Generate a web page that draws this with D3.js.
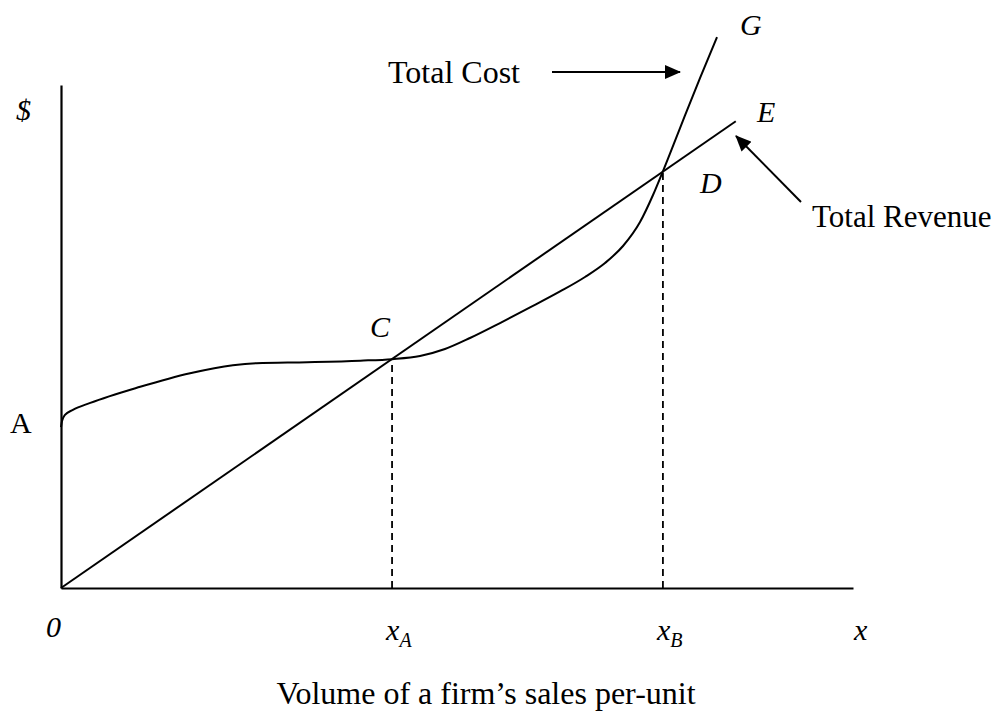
<!DOCTYPE html>
<html>
<head>
<meta charset="utf-8">
<script src="https://cdn.jsdelivr.net/npm/d3@7"></script>
<style>
  body { margin: 0; background: #fff; }
  text { font-family: "Liberation Serif", "Times New Roman", serif; fill: #000; }
</style>
</head>
<body>
<div id="chart-container"></div>
<script>
/*
    Break-even chart: total revenue vs total cost
 */

// revenue line (straight from origin)
var revenue_x = [0, 85.2];
var revenue_y = [0, 92.8];

// total cost curve
var cost_x = [0, 0.13, 0.5, 1.5, 3.7, 10.0, 16.3, 21.7, 24.7, 31.1, 37.8, 41.8, 45.33, 48.48, 51.64, 55.43, 59.22, 63.01, 66.16, 68.69, 70.96, 73.11, 74.75, 76.01, 78.16, 80.68, 82.83];
var cost_y = [32.0, 33.2, 34.4, 35.4, 36.8, 40.0, 42.7, 44.3, 44.7, 44.9, 45.2, 45.5, 46.12, 47.51, 49.70, 52.68, 55.77, 58.95, 61.83, 64.61, 67.99, 72.76, 78.13, 82.90, 91.45, 101.39, 109.54];

// break-even points C and D
var break_even_x = [41.8, 76.0];
var break_even_y = [45.5, 82.9];
var break_even_labels = ['x', 'x'];
var break_even_subs = ['A', 'B'];

var svg_size = {
    'width': 1004,
    'height': 711
};

var svg = d3.select("#chart-container")
    .append("svg")
    .attr('width', svg_size.width)
    .attr('height', svg_size.height);

var x_scale = d3.scaleLinear()
    .domain([0, 100])
    .range([61, 853]);

var y_scale = d3.scaleLinear()
    .domain([0, 100])
    .range([588, 85]);

// arrow heads
var defs = svg.append('defs');
defs.append('marker')
    .attr('id', 'arrow')
    .attr('markerUnits', 'userSpaceOnUse')
    .attr('markerWidth', 16)
    .attr('markerHeight', 14)
    .attr('refX', 15)
    .attr('refY', 7)
    .attr('orient', 'auto')
    .append('path')
    .attr('d', 'M0,0L16,7L0,14Z')
    .style('fill', 'black');

// axes: plain lines, no ticks
svg.append('g')
    .attr('transform', 'translate(0,' + y_scale(0) + ')')
    .call(d3.axisBottom(x_scale).ticks(0).tickSizeOuter(0))
    .select('.domain')
    .style('stroke-width', '2.2px');

svg.append('g')
    .attr('transform', 'translate(' + x_scale(0) + ',0)')
    .call(d3.axisLeft(y_scale).ticks(0).tickSizeOuter(0))
    .select('.domain')
    .style('stroke-width', '2.2px');

// dashed drops from the break-even points
svg.selectAll('.drop-line')
    .data(break_even_x)
    .enter()
    .append('line')
    .classed('drop-line', true)
    .attr('x1', function(d){ return x_scale(d); })
    .attr('x2', function(d){ return x_scale(d); })
    .attr('y1', y_scale(0))
    .attr('y2', function(d, i){ return y_scale(break_even_y[i]); })
    .style('stroke', 'black')
    .style('stroke-width', '1.8px')
    .style('stroke-dasharray', '7,5');

// total revenue
var revenue_line = d3.line()
    .x(function(d){ return x_scale(d[0]); })
    .y(function(d){ return y_scale(d[1]); });

svg.append('path')
    .datum(d3.zip(revenue_x, revenue_y))
    .attr('d', revenue_line)
    .style('fill', 'none')
    .style('stroke', 'black')
    .style('stroke-width', '2px');

// total cost
var cost_line = d3.line()
    .curve(d3.curveMonotoneX)
    .x(function(d){ return x_scale(d[0]); })
    .y(function(d){ return y_scale(d[1]); });

svg.append('path')
    .datum(d3.zip(cost_x, cost_y))
    .attr('d', cost_line)
    .style('fill', 'none')
    .style('stroke', 'black')
    .style('stroke-width', '2px');

// pointer arrows
svg.append('line')
    .attr('x1', 552).attr('y1', 72)
    .attr('x2', 680).attr('y2', 72)
    .style('stroke', 'black')
    .style('stroke-width', '2px')
    .attr('marker-end', 'url(#arrow)');

svg.append('line')
    .attr('x1', 801).attr('y1', 202)
    .attr('x2', 736).attr('y2', 136)
    .style('stroke', 'black')
    .style('stroke-width', '2px')
    .attr('marker-end', 'url(#arrow)');

// labels
function add_label(x, y, txt, size, italic, anchor) {
    return svg.append('text')
        .attr('x', x)
        .attr('y', y)
        .text(txt)
        .style('font-size', size + 'px')
        .style('font-style', italic ? 'italic' : 'normal')
        .attr('text-anchor', anchor || 'start');
}

add_label(388, 83, 'Total Cost', 32, false);
add_label(812, 227, 'Total Revenue', 31, false);
add_label(16, 120, '$', 30, true);
add_label(10, 433, 'A', 30, false);
add_label(46, 637, '0', 30, true);
add_label(370, 337, 'C', 30, true);
add_label(700, 193, 'D', 30, true);
add_label(757, 122, 'E', 30, true);
add_label(740, 35, 'G', 30, true);
add_label(854, 640, 'x', 30, true);
add_label(486, 704, 'Volume of a firm\u2019s sales per-unit', 32, false, 'middle');

// x_A, x_B
var sub_labels = svg.selectAll('.sub-label')
    .data(break_even_x)
    .enter()
    .append('text')
    .classed('sub-label', true)
    .attr('x', function(d){ return x_scale(d) - 6; })
    .attr('y', 640)
    .style('font-size', '30px')
    .style('font-style', 'italic');

sub_labels.append('tspan')
    .text(function(d, i){ return break_even_labels[i]; });

sub_labels.append('tspan')
    .attr('dy', 7)
    .style('font-size', '20px')
    .text(function(d, i){ return break_even_subs[i]; });
</script>
</body>
</html>
